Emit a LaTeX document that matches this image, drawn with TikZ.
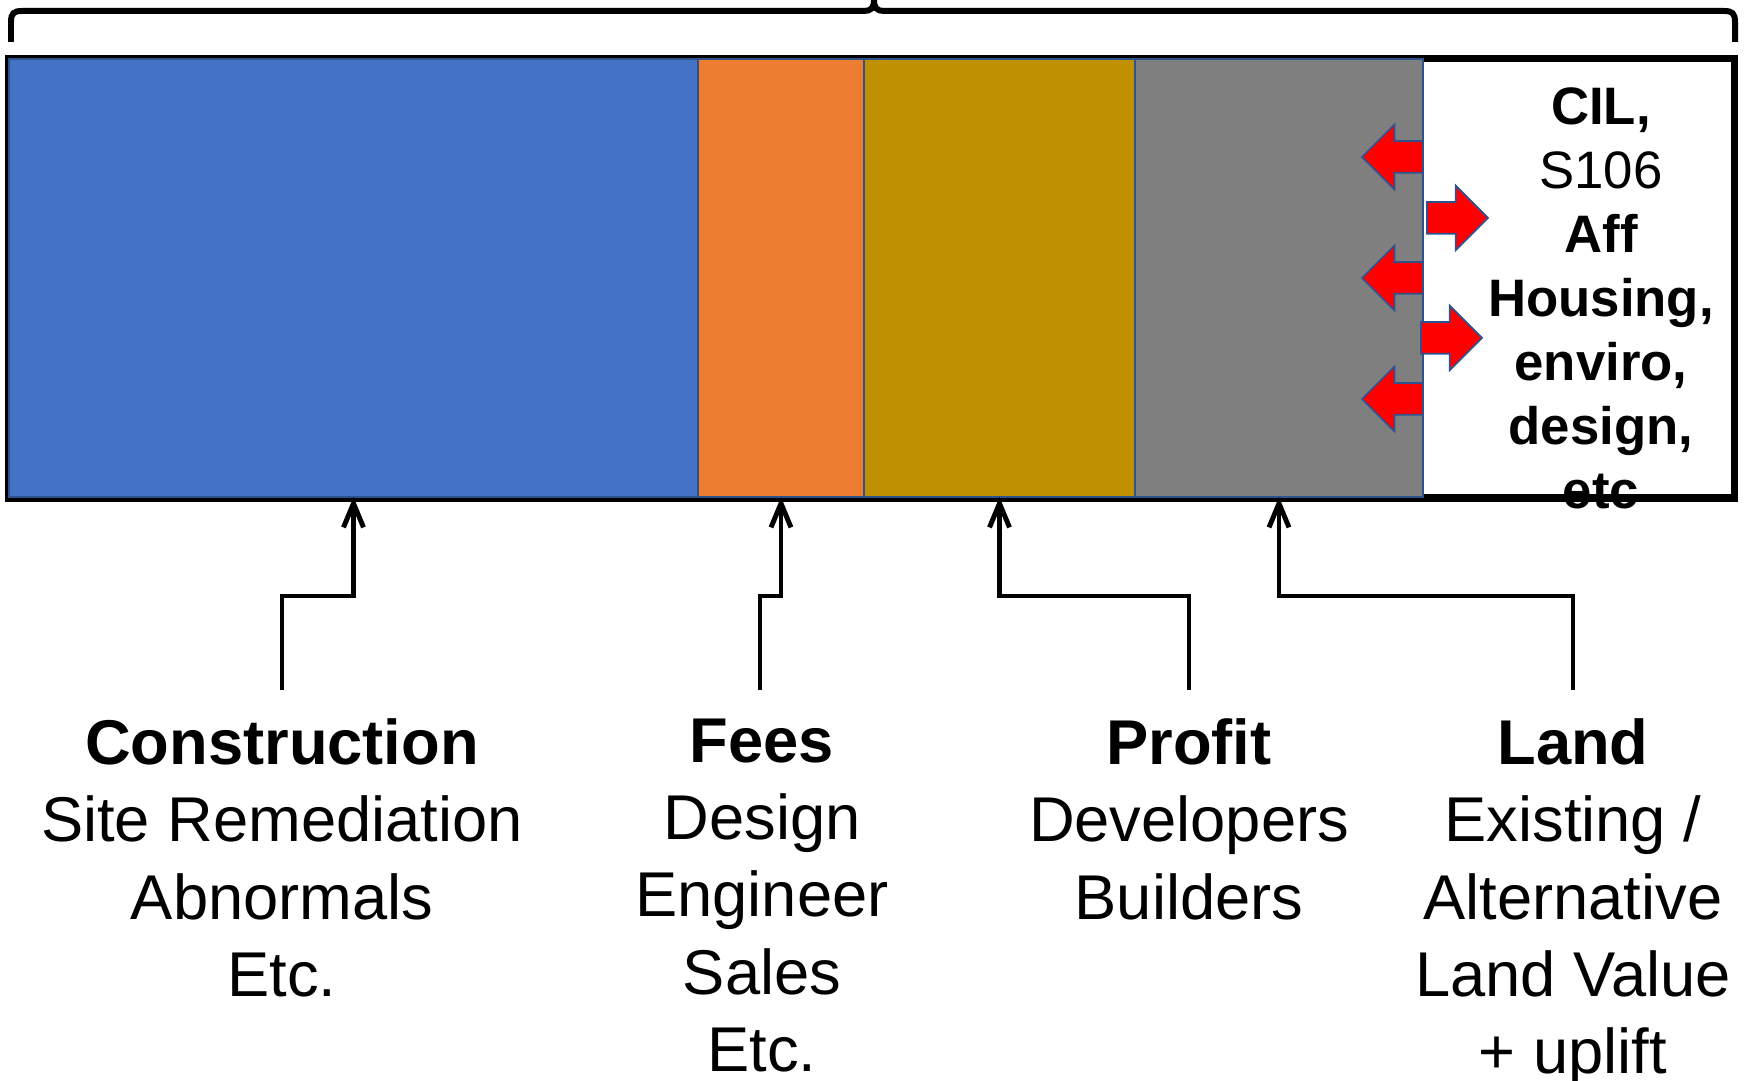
\documentclass[tikz,border=0pt]{standalone}
\usepackage{fontspec}
\setmainfont{Liberation Sans}
\usetikzlibrary{shapes.arrows,arrows.meta,positioning}

\definecolor{segblue}{HTML}{4472C4}
\definecolor{segorange}{HTML}{ED7D31}
\definecolor{seggold}{HTML}{BF9000}
\definecolor{seggrey}{HTML}{7F7F7F}
\definecolor{edgeblue}{HTML}{2F528F}

\tikzset{
  seg/.style={rectangle, draw=edgeblue, line width=0.5pt, inner sep=0pt,
    outer sep=0pt, minimum height=4.38cm, anchor=north west},
  push/.style={single arrow, draw=edgeblue, fill=red, line width=0.5pt,
    inner xsep=0pt, inner ysep=0.15cm, minimum height=0.61cm,
    single arrow head extend=0.165cm, outer sep=0pt, anchor=tail},
  conn/.style={line width=1.4pt, -{Straight Barb[length=2.4mm,width=2mm]}},
  lab/.style={anchor=north, align=center, inner sep=0pt,
    font=\fontsize{18}{22}\selectfont},
}

\begin{document}
\begin{tikzpicture}
    \useasboundingbox (0,0) rectangle (17.46,-10.81);

    % Brace over the whole bar
    \draw [line width=1.7pt] (0.11,-0.42) -- (0.11,-0.22)
        .. controls (0.11,-0.13) and (0.14,-0.11) .. (0.22,-0.11) -- (8.64,-0.11)
        .. controls (8.71,-0.11) and (8.74,-0.08) .. (8.74,0)
        .. controls (8.74,-0.08) and (8.77,-0.11) .. (8.84,-0.11) -- (17.24,-0.11)
        .. controls (17.32,-0.11) and (17.35,-0.13) .. (17.35,-0.22) -- (17.35,-0.42);

    % Bar frame and cost segments
    \draw [line width=2pt] (0.09,-0.59) rectangle (17.34,-4.98);
    \node [seg, fill=segblue, minimum width=6.89cm] (constr) at (0.09,-0.59) {};
    \node [seg, fill=segorange, minimum width=1.66cm] (fees) at (constr.north east) {};
    \node [seg, fill=seggold, minimum width=2.71cm] (profit) at (fees.north east) {};
    \node [seg, fill=seggrey, minimum width=2.88cm] (land) at (profit.north east) {};

    % Planning obligations box
    \node [anchor=north, align=center, inner sep=0pt,
           font=\fontsize{15}{18.2}\selectfont\bfseries] (levy) at (16.01,-0.87)
        {CIL,\\\mdseries S106\\Aff\\Housing,\\enviro,\\design,\\etc};

    % Push and pull arrows
    \foreach \y [count=\i] in {1.57,2.78,3.99}
        \node [push, shape border rotate=180] (pull\i) at (14.23,-\y) {};
    \node [push] (give1) at (14.27,-2.18) {};
    \node [push] (give2) at (14.21,-3.38) {};

    % Labels
    \node [lab] (conLab) at (2.82,-7.18) {\textbf{Construction}\\Site Remediation\\Abnormals\\Etc.};
    \node [lab] (feeLab) at (7.62,-7.18) {\textbf{Fees}\\Design\\Engineer\\Sales\\Etc.};
    \node [lab] (proLab) at (11.89,-7.18) {\textbf{Profit}\\Developers\\Builders};
    \node [lab] (lanLab) at (15.73,-7.18) {\textbf{Land}\\Existing /\\Alternative\\Land Value\\+ uplift};

    % Connectors
    \draw [conn] ([yshift=2.8mm]conLab.north) -- ++(0,0.94) -| (constr.south);
    \draw [conn] ([xshift=-0.2mm,yshift=2.8mm]feeLab.north) -- ++(0,0.94) -| (fees.south);
    \draw [conn] ([yshift=2.8mm]proLab.north) -- ++(0,0.94) -| (profit.south);
    \draw [conn] ([yshift=2.8mm]lanLab.north) -- ++(0,0.94) -| (land.south);
\end{tikzpicture}
\end{document}
